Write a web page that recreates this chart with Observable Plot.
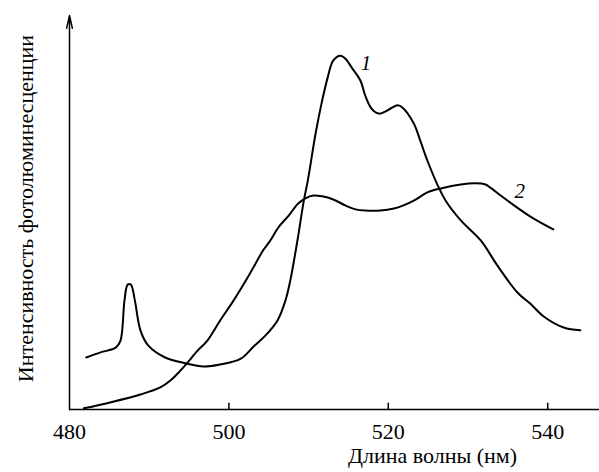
<!DOCTYPE html>
<html><head><meta charset="utf-8">
<script src="https://cdn.jsdelivr.net/npm/d3@7"></script>
<script src="https://cdn.jsdelivr.net/npm/@observablehq/plot@0.6"></script>
<style>body{margin:0;background:#fff;} svg{display:block;} svg text{font-family:"Liberation Serif","Times New Roman",serif;}</style>
</head><body><div id="chart"></div>
<script>
const curve1X = [482.1,483.9,485.8,486.4,486.9,487.3,487.7,488.2,488.9,489.9,492.0,494.6,496.8,498.9,501.5,503.1,504.6,506.1,507.1,507.7,508.6,509.4,509.9,510.9,511.7,512.4,513.1,514.0,514.6,515.5,516.5,517.1,517.8,518.4,519.0,519.6,520.3,521.2,521.8,523.2,524.0,524.9,526.2,527.2,529.1,531.6,533.7,536.2,537.8,539.5,542.0,544.1];
const curve1Y = [13.2,14.5,15.7,17.5,27.7,31.7,31.7,27.7,20.1,16.2,13.2,11.7,10.9,11.4,12.9,16.0,18.8,22.6,27.7,32.7,42.9,53.0,58.1,70.3,78.4,84.3,88.6,89.8,89.1,86.5,83.5,79.7,76.6,75.4,75.1,75.6,76.4,77.2,76.6,72.6,68.3,63.2,56.9,53.0,48.0,42.9,36.5,29.7,26.9,23.6,20.8,20.1];
const curve2X = [481.8,485.1,488.9,491.4,492.7,493.7,494.8,496.1,497.3,498.9,500.6,502.5,504.3,505.2,506.2,507.5,508.7,509.6,510.6,511.7,513.1,514.6,515.9,517.1,519.0,520.7,521.9,523.2,524.9,526.6,529.1,530.9,532.2,532.8,534.1,536.0,538.2,540.7];
const curve2Y = [0.3,1.8,3.8,5.6,7.4,9.4,11.9,15.0,17.5,22.6,27.7,34.0,40.4,42.9,46.2,49.2,52.3,53.6,54.3,54.1,53.3,51.8,50.8,50.5,50.5,51.0,51.8,53.0,55.1,56.1,57.1,57.4,57.1,56.3,54.3,51.5,48.5,45.7];
const xTicks = [480, 500, 520, 540];
const labelNames = ["1", "2"];
const labelX = [517.2, 536.5];
const labelY = [88.0, 55.5];
const xTitle = "Длина волны (нм)";
const yTitle = "Интенсивность фотолюминесценции";

const c1 = curve1X.map((x, i) => ({x, y: curve1Y[i]}));
const c2 = curve2X.map((x, i) => ({x, y: curve2Y[i]}));
const labels = labelNames.map((t, i) => ({t, x: labelX[i], y: labelY[i]}));
const font = "'Liberation Serif', 'Times New Roman', serif";

const chart = Plot.plot({
  width: 599, height: 472,
  marginLeft: 69, marginRight: 0, marginTop: 15, marginBottom: 63,
  style: {fontFamily: font, fontSize: "22px", color: "#000", background: "#fff"},
  x: {domain: [480, 546.5], axis: null},
  y: {domain: [0, 100], axis: null},
  marks: [
    Plot.axisX({ticks: xTicks, tickSize: 0, tickPadding: 14, fontSize: 22, fontFamily: font, label: null, tickFormat: d => String(d)}),
    Plot.ruleX(xTicks.slice(1), {y1: 0, y2: 1.6, stroke: "#000", strokeWidth: 1.5}),
    Plot.ruleY([0], {stroke: "#000", strokeWidth: 1.5}),
    Plot.arrow([{}], {x1: () => 480, y1: () => 0, x2: () => 480, y2: () => 100, stroke: "#000", strokeWidth: 1.5, headAngle: 25, headLength: 13}),
    Plot.line(c1, {x: "x", y: "y", curve: "catmull-rom", stroke: "#000", strokeWidth: 2}),
    Plot.line(c2, {x: "x", y: "y", curve: "catmull-rom", stroke: "#000", strokeWidth: 2}),
    Plot.text(labels, {x: "x", y: "y", text: "t", fontStyle: "italic", fontSize: 21, fontFamily: font, fill: "#000"}),
    Plot.text([xTitle], {frameAnchor: "bottom", text: d => d, textAnchor: "middle", dx: 98, dy: 53, fontSize: 22, fontFamily: font, fill: "#000"}),
    Plot.text([yTitle], {frameAnchor: "left", text: d => d, textAnchor: "middle", rotate: -90, dx: -44, dy: -4, fontSize: 22, fontFamily: font, fill: "#000"})
  ]
});
document.getElementById("chart").append(chart);
</script></body></html>
